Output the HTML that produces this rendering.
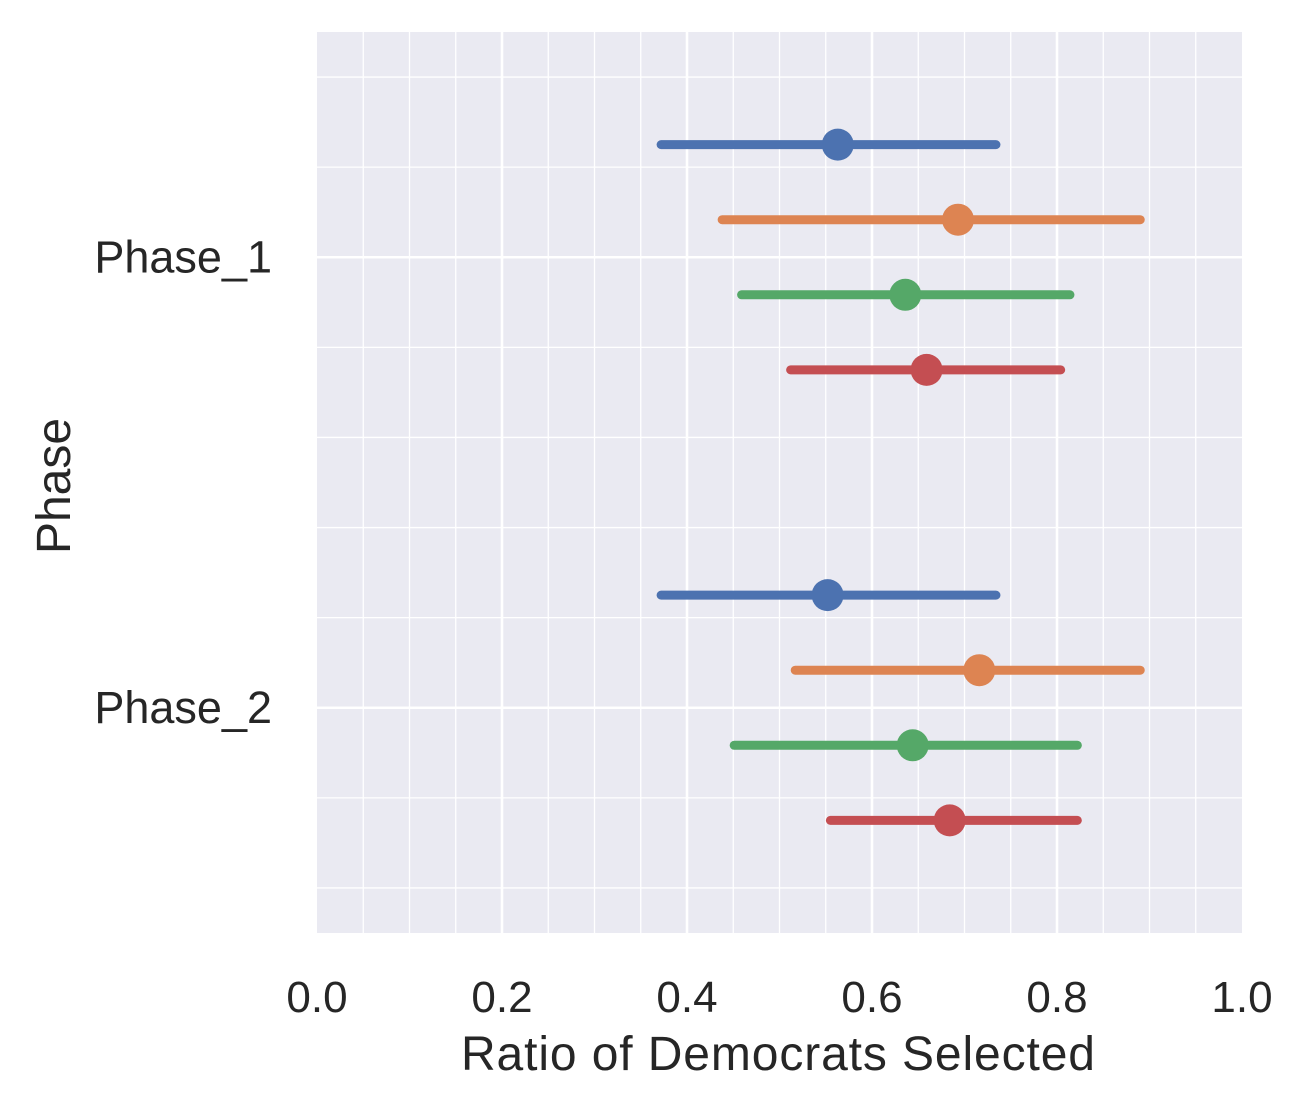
<!DOCTYPE html>
<html><head><meta charset="utf-8"><style>
html,body{margin:0;padding:0;background:#fff;}
svg text{font-family:"Liberation Sans",Arial,sans-serif;fill:#262626;}
</style></head><body>
<svg id="chart" width="1305" height="1111" xmlns="http://www.w3.org/2000/svg">
<rect x="317" y="32" width="925" height="901" fill="#eaeaf2"/>
<g id="grid"></g>
<g id="marks"></g>
<g id="ticks"></g>
<text x="778" y="1070" font-size="48" text-anchor="middle" textLength="634">Ratio of Democrats Selected</text>
<text transform="translate(70,486) rotate(-90)" font-size="48" text-anchor="middle">Phase</text>
</svg>
<script>
const categories = ["Phase_1", "Phase_2"];
const seriesNames = ["s1", "s2", "s3", "s4"];
const colors = ["#4c72b0", "#dd8452", "#55a868", "#c44e52"];
const means = [[0.563, 0.552], [0.693, 0.716], [0.636, 0.644], [0.659, 0.684]];
const lows  = [[0.372, 0.372], [0.438, 0.517], [0.459, 0.451], [0.512, 0.555]];
const highs = [[0.734, 0.734], [0.890, 0.890], [0.814, 0.822], [0.804, 0.822]];
const xTicks = [0, 0.2, 0.4, 0.6, 0.8, 1.0];
const xTickLabels = ["0.0", "0.2", "0.4", "0.6", "0.8", "1.0"];

const NS = "http://www.w3.org/2000/svg";
const X0 = 317, X1 = 1242, Y0 = 32, Y1 = 933;
const xs = v => X0 + (v - 0) / 1 * (X1 - X0);
const ys = v => Y0 + (v + 0.5) / 2 * (Y1 - Y0);
function mk(tag, attrs, parent) {
  const e = document.createElementNS(NS, tag);
  for (const k in attrs) e.setAttribute(k, attrs[k]);
  parent.appendChild(e); return e;
}
const grid = document.getElementById("grid");
for (let i = 1; i < 20; i++) {
  const v = i * 0.05; const major = i % 4 === 0;
  const l = mk("line", {x1: xs(v), x2: xs(v), y1: Y0, y2: Y1, stroke: "#fff", "stroke-width": major ? 2.6 : 1.3}, grid);
  
  
}
for (let i = -2; i <= 7; i++) {
  const v = i * 0.2; const major = (i === 0 || i === 5);
  if (v <= -0.5 || v >= 1.5) continue;
  const l = mk("line", {x1: X0, x2: X1, y1: ys(v), y2: ys(v), stroke: "#fff", "stroke-width": major ? 2.6 : 1.3}, grid);
  
  
}
const marks = document.getElementById("marks");
const n = seriesNames.length;
for (let s = 0; s < n; s++) {
  const o = (s - (n - 1) / 2) * (0.5 / (n - 1));
  for (let c = 0; c < categories.length; c++) {
    const y = ys(c + o);
    const l = mk("line", {x1: xs(lows[s][c]), x2: xs(highs[s][c]), y1: y, y2: y, stroke: colors[s], "stroke-width": 9, "stroke-linecap": "round"}, marks);
    
    
    const p = mk("circle", {cx: xs(means[s][c]), cy: y, r: 16, fill: colors[s]}, marks);
    
    
  }
}
const ticks = document.getElementById("ticks");
xTicks.forEach((v, i) => {
  const t = mk("text", {x: xs(v), y: 1012, "font-size": 44, "text-anchor": "middle"}, ticks);
  t.textContent = xTickLabels[i];
  
  
});
categories.forEach((c, i) => {
  const t = mk("text", {x: 272, y: ys(i) + 15, "font-size": 45, "text-anchor": "end"}, ticks);
  t.textContent = c;
  
  
});
</script>
</body></html>
